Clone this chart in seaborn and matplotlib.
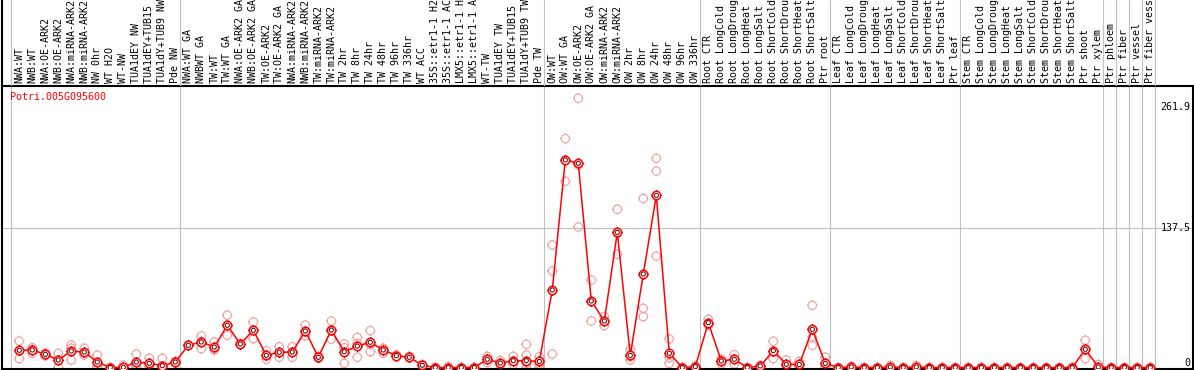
import matplotlib
matplotlib.use("Agg")
import matplotlib.pyplot as plt
from matplotlib.path import Path
import numpy as np
import pandas as pd
import seaborn as sns

GENE = "Potri.005G095600"

SAMPLES = [
    "NWA:WT", "NWB:WT", "NWA:OE-ARK2", "NWB:OE-ARK2", "NWA:miRNA-ARK2",
    "NWB:miRNA-ARK2", "NW 0hr", "WT H2O", "WT-NW", "TUA1dEY NW",
    "TUA1dEY+TUB15 NW", "TUA1dY+TUB9 NW", "Pde NW",
    "NWA:WT GA", "NWBWT GA", "TW:WT", "TW:WT GA", "NWA:OE-ARK2 GA",
    "NWB:OE-ARK2 GA", "TW:OE-ARK2", "TW:OE-ARK2 GA", "NWA:miRNA-ARK2",
    "NWB:miRNA-ARK2", "TW:miRNA-ARK2", "TW:miRNA-ARK2", "TW 2hr", "TW 8hr",
    "TW 24hr", "TW 48hr", "TW 96hr", "TW 336hr", "WT ACC", "35S::etr1-1 H2O",
    "35S::etr1-1 ACC", "LMX5::etr1-1 H2O", "LMX5::etr1-1 ACC", "WT-TW",
    "TUA1dEY TW", "TUA1dEY+TUB15 TW", "TUA1dY+TUB9 TW", "Pde TW",
    "OW:WT", "OW:WT GA", "OW:OE-ARK2", "OW:OE-ARK2 GA", "OW:miRNA-ARK2",
    "OW:miRNA-ARK2", "OW 2hr", "OW 8hr", "OW 24hr", "OW 48hr", "OW 96hr",
    "OW 336hr",
    "Root CTR", "Root LongCold", "Root LongDrought", "Root LongHeat",
    "Root LongSalt", "Root ShortCold", "Root ShortDrought", "Root ShortHeat",
    "Root ShortSalt", "Ptr root",
    "Leaf CTR", "Leaf LongCold", "Leaf LongDrought", "Leaf LongHeat",
    "Leaf LongSalt", "Leaf ShortCold", "Leaf ShortDrought", "Leaf ShortHeat",
    "Leaf ShortSalt", "Ptr leaf",
    "Stem CTR", "Stem LongCold", "Stem LongDrought", "Stem LongHeat",
    "Stem LongSalt", "Stem ShortCold", "Stem ShortDrought", "Stem ShortHeat",
    "Stem ShortSalt", "Ptr shoot", "Ptr xylem",
    "Ptr phloem", "Ptr fiber", "Ptr vessel", "Ptr fiber vessel",
]
GROUP_SIZES = [13, 28, 12, 10, 10, 11, 1, 1, 1, 1]

MEANS = [
    17.0, 17.3, 13.0, 7.4, 16.3, 15.3, 5.4, 0.0, 0.2, 5.4, 4.1, 1.8, 5.4,
    21.9, 25.2, 20.2, 41.7, 23.2, 36.7, 12.0, 15.0, 15.3, 36.1, 10.1, 37.0,
    15.6, 21.2, 24.9, 17.3, 11.7, 10.1, 2.2, 0.0, 0.0, 0.0, 0.0, 8.1, 4.4,
    6.7, 6.7, 6.0,
    76.6, 205.0, 201.7, 65.7, 45.9, 133.5, 12.0, 92.4, 170.0, 14.0, 0.0, 0.8,
    44.3, 6.4, 8.1, 0.0, 1.5, 16.6, 3.2, 3.0, 37.7, 4.1,
    0.0, 0.5, 0.0, 0.0, 0.5, 0.0, 0.5, 0.0, 0.0, 0.0,
    0.0, 0.0, 0.0, 0.0, 0.0, 0.0, 0.0, 0.0, 0.0, 18.0, 0.5,
    0.0, 0.0, 0.0, 0.0,
]

REPLICATES = [
    [26.2, 8.7, 16.5], [19.6, 14.0, 18.0], [14.6, 11.4, 13.0], [14.0, 7.4, 0.2],
    [22.2, 7.4, 19.0], [19.0, 12.3, 14.5], [12.3, 1.8, 0.2], [0.0, 0.0, 0.0],
    [2.5, 0.0, 0.0], [13.3, 0.2, 2.5], [9.1, 0.2, 3.0], [9.1, 1.5, 0.2],
    [6.1, 4.1, 5.8],
    [22.5, 21.5, 21.8], [31.1, 18.6, 25.8], [25.2, 17.3, 18.2], [51.6, 31.8, 41.7],
    [23.5, 22.8, 23.2], [44.9, 28.4, 36.8], [16.6, 8.1, 11.3], [20.5, 10.1, 14.5],
    [20.5, 10.1, 15.3], [42.0, 31.1, 35.2], [11.0, 9.0, 10.3], [45.9, 27.9, 37.2],
    [23.2, 4.1, 19.5], [29.8, 10.1, 23.7], [36.4, 15.6, 22.7], [14.0, 19.0, 18.9],
    [12.5, 11.0, 11.6], [11.0, 9.5, 9.8], [3.0, 1.5, 2.1], [0.3, 0.0, 0.0],
    [1.0, 0.0, 0.0], [0.0, 0.0, 0.0], [0.3, 0.0, 0.0], [11.0, 5.0, 8.3],
    [7.0, 2.0, 4.2], [11.0, 3.0, 6.1], [22.9, 12.3, 4.1, 0.2], [10.7, 3.5, 0.2],
    [121.0, 95.3, 13.3], [226.0, 184.0, 205.0], [265.9, 138.8, 200.0],
    [86.4, 45.9, 65.0], [50.2, 41.3, 46.0], [156.3, 111.8, 132.5],
    [18.0, 7.4, 10.6], [167.0, 58.5, 50.2], [206.6, 194.0, 110.0],
    [28.2, 4.1, 9.7], [0.0, 0.0, 0.0], [1.5, 0.5, 0.4],
    [47.6, 42.0, 43.3], [8.4, 3.4, 7.4], [12.6, 3.4, 8.3], [0.0, 0.0, 0.0],
    [2.0, 1.0, 1.5], [25.9, 8.7, 15.2], [7.4, 1.0, 1.2], [6.0, 1.5, 1.5],
    [61.4, 21.9, 29.8], [10.1, 1.5, 0.7],
    [0.0, 0.0, 0.0], [1.5, 0.0, 0.0], [0.0, 0.0, 0.0], [0.0, 0.0, 0.0],
    [2.0, 0.0, 0.0], [0.0, 0.0, 0.0], [2.0, 0.0, 0.0], [0.0, 0.0, 0.0],
    [0.0, 0.0, 0.0], [0.0, 0.0, 0.0],
    [0.0, 0.0, 0.0], [0.0, 0.0, 0.0], [0.0, 0.0, 0.0], [0.0, 0.0, 0.0],
    [0.0, 0.0, 0.0], [0.0, 0.0, 0.0], [0.0, 0.0, 0.0], [0.0, 0.0, 0.0],
    [0.0, 0.0, 0.0], [26.9, 8.7, 18.4], [3.0, 0.0, 0.0],
    [0.0, 0.0, 0.0], [0.0, 0.0, 0.0], [0.0, 0.0, 0.0], [0.0, 0.0, 0.0],
]

Y_MARKS = [0, 137.5, 261.9]
Y_LABELS = ["0", "137.5", "261.9"]

sns.set_theme(style="white")
plt.rcParams["font.family"] = ["DejaVu Sans Mono"]


def _tick_ring(tick=1.25, n=40):
    # circle plus four short ticks sticking out (like the viewer's glyph)
    ang = np.linspace(0, 2 * np.pi, n + 1)
    verts = list(zip(np.cos(ang), np.sin(ang)))
    codes = [Path.MOVETO] + [Path.LINETO] * n
    for a, b in [((0, 1), (0, tick)), ((0, -1), (0, -tick)),
                 ((1, 0), (tick, 0)), ((-1, 0), (-tick, 0))]:
        verts += [a, b]
        codes += [Path.MOVETO, Path.LINETO]
    return Path(verts, codes)


TICK_RING = _tick_ring()

W, H = 1194, 370
fig = plt.figure(figsize=(W / 100, H / 100), dpi=100)

x0_px, pitch = 19.3, 13.0
plot_left, plot_right, plot_top, plot_bottom = 2, 1193, 86, 369
zero_px, px_per_unit = 367.5, 1.0124

xlim = ((plot_left - x0_px) / pitch, (plot_right - x0_px) / pitch)
ylim = ((zero_px - plot_bottom) / px_per_unit, (zero_px - plot_top) / px_per_unit)

ax = fig.add_axes([plot_left / W, 1 - plot_bottom / H,
                   (plot_right - plot_left) / W, (plot_bottom - plot_top) / H])
hdr = fig.add_axes([plot_left / W, 1 - plot_top / H,
                    (plot_right - plot_left) / W, plot_top / H])

xs = np.arange(len(SAMPLES))
mean_df = pd.DataFrame({"x": xs, "value": MEANS})
rep_df = pd.DataFrame([(i, v) for i, reps in enumerate(REPLICATES) for v in reps],
                      columns=["x", "value"])

# group separators
bounds = np.cumsum([0] + GROUP_SIZES) - 1 + 5 / pitch
for b in bounds:
    ax.axvline(b, color="#c0c0c0", lw=0.8, zorder=0)
    hdr.axvline(b, color="#c0c0c0", lw=0.8, zorder=0)
ax.axhline(137.5, color="#c0c0c0", lw=0.8, zorder=0)

sns.scatterplot(data=rep_df, x="x", y="value", ax=ax, marker=TICK_RING, s=56,
                facecolor="none", edgecolor="#f0a0a0", linewidth=0.8, zorder=2)
sns.lineplot(data=mean_df, x="x", y="value", ax=ax, color="red", lw=1.1, zorder=3)
sns.scatterplot(data=mean_df, x="x", y="value", ax=ax, marker=TICK_RING, s=56,
                facecolor="white", edgecolor="red", linewidth=1.1, zorder=4)
sns.scatterplot(data=mean_df, x="x", y="value", ax=ax, marker="o", s=9,
                facecolor="none", edgecolor="#500000", linewidth=0.7, zorder=5)

ax.set_xlim(*xlim)
ax.set_ylim(*ylim)
ax.set_xlabel("")
ax.set_ylabel("")
ax.set_xticks([])
ax.set_yticks([])
for sp in ax.spines.values():
    sp.set_visible(True)
    sp.set_color("black")
    sp.set_linewidth(1.5)

ax.text((10 - x0_px) / pitch, 267, GENE, color="red", fontsize=7.2,
        ha="left", va="center")

ytr = ax.get_yaxis_transform()
for val, lab, va in zip(Y_MARKS, Y_LABELS, ["bottom", "center", "top"]):
    ax.text(0.998, val, lab, transform=ytr, ha="right", va=va, fontsize=7.2,
            color="black")

hdr.set_xlim(*xlim)
hdr.set_ylim(0, 1)
hdr.set_xticks([])
hdr.set_yticks([])
for name, sp in hdr.spines.items():
    sp.set_visible(name == "left")
    sp.set_color("black")
    sp.set_linewidth(1.5)
hdr.patch.set_alpha(0)
for i, lab in enumerate(SAMPLES):
    hdr.text(i, 0.03, lab, rotation=90, ha="center", va="bottom",
             fontsize=7.2, color="black", clip_on=False)

fig.savefig("out.png", dpi=100)
plt.close(fig)
